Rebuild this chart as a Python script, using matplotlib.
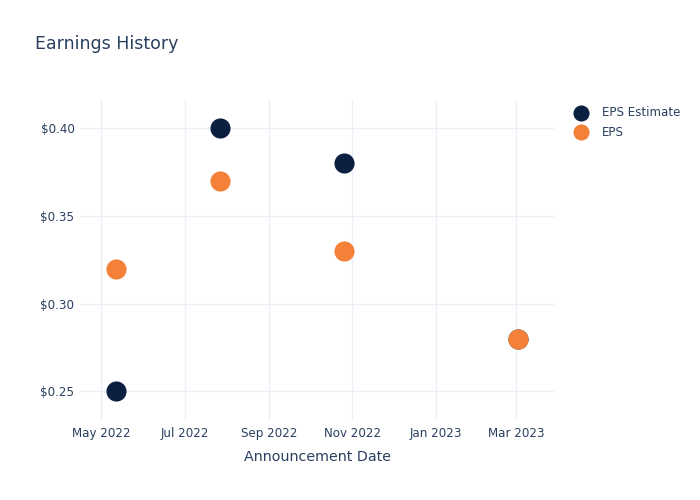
import matplotlib
matplotlib.use('Agg')
import matplotlib.pyplot as plt
import matplotlib.dates as mdates
from matplotlib.ticker import FuncFormatter
import numpy as np
from datetime import datetime

# data
dates = ['2022-05-12', '2022-07-27', '2022-10-26', '2023-03-02']
eps_estimate = [0.25, 0.40, 0.38, 0.28]
eps_actual = [0.32, 0.37, 0.33, 0.28]
series_names = ['EPS Estimate', 'EPS']

navy = '#0b1f41'
orange = '#f58038'
textcol = '#2a3f5f'
gridcol = '#ebf0f8'

plt.rcParams['font.family'] = 'DejaVu Sans'

x = [datetime.strptime(d, '%Y-%m-%d') for d in dates]

fig = plt.figure(figsize=(7, 5), dpi=100)
ax = fig.add_axes([80/700, 80/500, 474/700, 320/500])

ax.scatter(x, eps_estimate, s=210, color=navy, label=series_names[0], zorder=3, linewidths=0)
ax.scatter(x, eps_actual, s=210, color=orange, label=series_names[1], zorder=3, linewidths=0)

ax.set_xlim(datetime(2022, 4, 15, 10), datetime(2023, 3, 28, 14))
ax.set_ylim(0.2336, 0.4161)

ax.xaxis.set_major_locator(mdates.MonthLocator(bymonth=[1, 3, 5, 7, 9, 11]))
ax.xaxis.set_major_formatter(mdates.DateFormatter('%b %Y'))
ax.set_yticks([0.25, 0.30, 0.35, 0.40])
ax.yaxis.set_major_formatter(FuncFormatter(lambda v, p: '$%.2f' % v))

for s in ax.spines.values():
    s.set_visible(False)
ax.grid(True, color=gridcol, linewidth=1)
ax.set_axisbelow(True)
ax.tick_params(length=0, labelsize=8.6, labelcolor=textcol)
ax.tick_params(axis='y', pad=4)
ax.tick_params(axis='x', pad=5)

ax.set_xlabel('Announcement Date', fontsize=10.3, color=textcol, labelpad=7.5)

fig.text(35/700, 1 - 44/500, 'Earnings History', fontsize=12.5, color=textcol,
         ha='left', va='center')

leg = ax.legend(loc='upper left', bbox_to_anchor=(1.02, 1.0), frameon=False,
                fontsize=8.6, labelcolor=textcol, handletextpad=0.75,
                labelspacing=0.55, markerscale=0.8, borderaxespad=0.1)

fig.savefig('out.png', dpi=100, facecolor='white')
